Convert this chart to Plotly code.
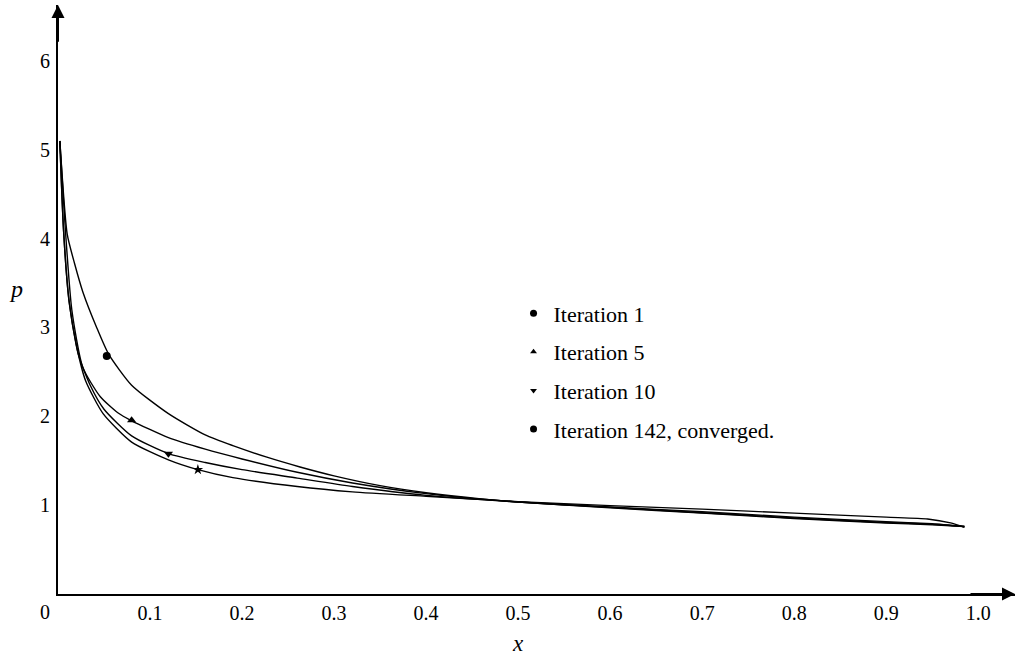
import plotly.graph_objects as go

# ---- data ----
x1 = [0.002, 0.010, 0.018, 0.027, 0.042, 0.055, 0.080, 0.120, 0.160, 0.190, 0.227, 0.263, 0.300, 0.350, 0.400, 0.460, 0.500, 0.600, 0.700, 0.800, 0.900, 0.950, 0.985]
p1 = [5.10, 4.05, 3.72, 3.40, 3.00, 2.70, 2.35, 2.03, 1.79, 1.67, 1.54, 1.43, 1.33, 1.22, 1.14, 1.07, 1.035, 0.97, 0.91, 0.85, 0.80, 0.78, 0.76]

x5 = [0.002, 0.008, 0.015, 0.027, 0.046, 0.065, 0.080, 0.120, 0.160, 0.200, 0.260, 0.320, 0.400, 0.500, 0.600, 0.700, 0.800, 0.900, 0.950, 0.985]
p5 = [5.10, 4.10, 3.20, 2.55, 2.22, 2.04, 1.95, 1.76, 1.63, 1.52, 1.37, 1.25, 1.13, 1.035, 0.975, 0.915, 0.855, 0.805, 0.785, 0.76]

x10 = [0.002, 0.006, 0.012, 0.022, 0.035, 0.050, 0.080, 0.120, 0.160, 0.200, 0.260, 0.320, 0.400, 0.500, 0.600, 0.700, 0.800, 0.900, 0.950, 0.985]
p10 = [5.10, 4.10, 3.30, 2.70, 2.35, 2.08, 1.78, 1.58, 1.48, 1.40, 1.305, 1.21, 1.11, 1.035, 0.98, 0.925, 0.865, 0.815, 0.79, 0.76]

x142 = [0.002, 0.006, 0.012, 0.020, 0.030, 0.049, 0.080, 0.120, 0.152, 0.190, 0.260, 0.320, 0.400, 0.500, 0.600, 0.700, 0.800, 0.900, 0.945, 0.970, 0.985]
p142 = [5.10, 4.10, 3.30, 2.80, 2.40, 2.03, 1.71, 1.51, 1.40, 1.31, 1.21, 1.15, 1.10, 1.04, 0.995, 0.955, 0.91, 0.865, 0.845, 0.80, 0.75]

series_names = ["Iteration 1", "Iteration 5", "Iteration 10", "Iteration 142, converged."]
marker_x = [0.053, 0.080, 0.120, 0.152]
marker_p = [2.68, 1.955, 1.58, 1.40]
curve_symbols = ["circle", "triangle-up", "triangle-down", "star"]
legend_symbols = ["circle", "triangle-up", "triangle-down", "circle"]

x_ticks = [0.1, 0.2, 0.3, 0.4, 0.5, 0.6, 0.7, 0.8, 0.9, 1.0]
x_ticklabels = ["0.1", "0.2", "0.3", "0.4", "0.5", "0.6", "0.7", "0.8", "0.9", "1.0"]
y_ticks = [1, 2, 3, 4, 5, 6]

FONT = "'Liberation Serif', 'Times New Roman', Times, serif"
fig = go.Figure()

curves = [(x1, p1), (x5, p5), (x10, p10), (x142, p142)]
for (xs, ps) in curves:
    fig.add_trace(go.Scatter(x=xs, y=ps, mode="lines", showlegend=False,
                             line=dict(color="black", width=1.4, shape="spline", smoothing=0.6),
                             hoverinfo="skip"))

for i in range(4):
    fig.add_trace(go.Scatter(x=[marker_x[i]], y=[marker_p[i]], mode="markers", showlegend=False,
                             marker=dict(symbol=curve_symbols[i], size=8, color="black")))

for i in range(4):
    fig.add_trace(go.Scatter(x=[None], y=[None], mode="markers", name=series_names[i],
                             legendgroup=f"g{i}",
                             marker=dict(symbol=legend_symbols[i], size=6 if i in (1, 2) else 7, color="black")))

fig.update_layout(
    width=1020, height=656,
    margin=dict(l=58, r=5, t=5, b=62, autoexpand=False),
    paper_bgcolor="white", plot_bgcolor="white",
    font=dict(family=FONT, color="black", size=20),
    legend=dict(x=0.476, y=0.512, xanchor="left", yanchor="top",
                font=dict(family=FONT, size=22), bgcolor="rgba(0,0,0,0)",
                tracegroupgap=7, itemwidth=30),
    showlegend=True,
)
fig.update_xaxes(range=[0, 1.04], showgrid=False, zeroline=False, showline=True, automargin=False,
                 linecolor="black", linewidth=2, tickvals=x_ticks, ticktext=x_ticklabels,
                 ticks="", ticklen=0, ticklabelstandoff=0, tickfont=dict(family=FONT, size=20))
fig.update_yaxes(range=[0, 6.63], showgrid=False, zeroline=False, showline=True, automargin=False,
                 linecolor="black", linewidth=2, tickvals=y_ticks, ticks="", ticklen=0,
                 ticklabelstandoff=2, tickfont=dict(family=FONT, size=20))

# axis arrows
fig.add_annotation(x=0, y=6.63, ax=0, ay=6.2, xref="x", yref="y", axref="x", ayref="y",
                   showarrow=True, arrowhead=2, arrowsize=1.3, arrowwidth=2, arrowcolor="black", text="")
fig.add_annotation(x=1.04, y=0, ax=0.99, ay=0, xref="x", yref="y", axref="x", ayref="y",
                   showarrow=True, arrowhead=2, arrowsize=1.3, arrowwidth=2, arrowcolor="black", text="")

# origin label and axis titles
fig.add_annotation(x=0, y=0, xref="x", yref="y", text="0", showarrow=False,
                   xshift=-13, yshift=-18, font=dict(family=FONT, size=20))
fig.add_annotation(x=0.5, y=0, xref="x", yref="y", text="<i>x</i>", showarrow=False,
                   yshift=-49, font=dict(family=FONT, size=23))
fig.add_annotation(x=-0.053, y=3.43, xref="paper", yref="y", text="<i>p</i>", showarrow=False,
                   font=dict(family=FONT, size=24))

fig.write_html("out.html", config={"displayModeBar": False},
               post_script="document.body.style.margin='0';document.body.style.overflow='hidden';")
